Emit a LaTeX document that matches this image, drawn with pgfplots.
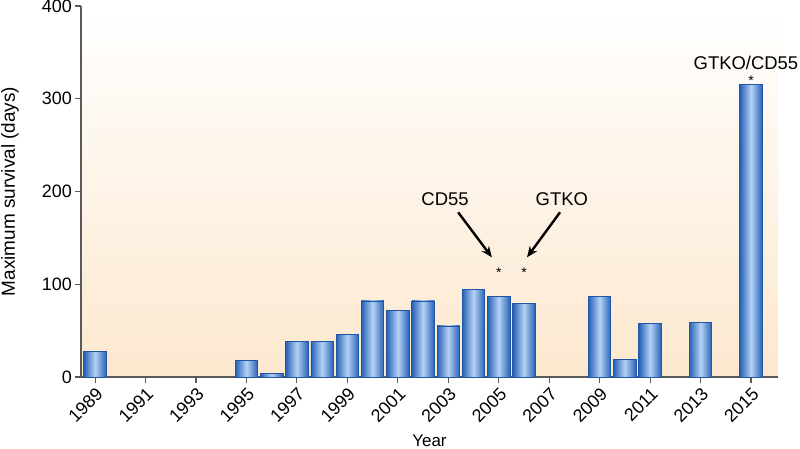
\documentclass[border=0pt]{standalone}
\usepackage{pgfplots}
\pgfplotsset{compat=1.18}
\usetikzlibrary{arrows.meta}
\usepackage{fontspec}
\setmainfont{Liberation Sans}
\definecolor{barEdge}{RGB}{38,98,182}
\definecolor{barMid}{RGB}{182,210,245}
\definecolor{barLine}{RGB}{30,85,165}
\definecolor{bgBottom}{RGB}{252,232,206}
\definecolor{axisgray}{RGB}{90,90,90}
\pgfplotsset{mybar/.style={ybar, bar width=0.89, bar shift=0pt, draw=barLine, line width=0.8bp, left color=barEdge, right color=barEdge, middle color=barMid}}
\begin{document}
\begin{tikzpicture}
\begin{axis}[
  scale only axis, width=697bp, height=371bp,
  xmin=1988.44, xmax=2016.07, ymin=0, ymax=400,
  axis x line*=bottom, axis y line*=left,
  axis line style={axisgray, line width=1.1bp},
  axis background/.style={shade, top color=white, bottom color=bgBottom},
  xtick={1989,1991,...,2015}, ytick={0,100,...,400},
  tick align=outside, major tick length=6bp,
  tick style={axisgray, line width=1.1bp},
  /pgf/number format/1000 sep={},
  /pgf/number format/assume math mode=true,
  tick label style={font=\fontsize{18}{20}\selectfont},
  xticklabel style={rotate=45, anchor=north east, inner sep=2bp},
  yticklabel style={inner sep=3bp},
  every axis y label/.style={at={(axis description cs:0,0.5)}, xshift=-71bp, rotate=90, anchor=center, font=\fontsize{19}{20}\selectfont},
  every axis x label/.style={at={(axis description cs:0.5,0)}, yshift=-64bp, anchor=center, font=\fontsize{17}{20}\selectfont},
  ylabel={Maximum survival (days)}, xlabel={Year},
  clip=false,
]
\addplot[mybar] coordinates {(1989,28)};
\addplot[mybar] coordinates {(1995,18)};
\addplot[mybar] coordinates {(1996,4)};
\addplot[mybar] coordinates {(1997,38)};
\addplot[mybar] coordinates {(1998,38)};
\addplot[mybar] coordinates {(1999,46)};
\addplot[mybar] coordinates {(2000,82)};
\addplot[mybar] coordinates {(2001,72)};
\addplot[mybar] coordinates {(2002,82)};
\addplot[mybar] coordinates {(2003,55)};
\addplot[mybar] coordinates {(2004,94)};
\addplot[mybar] coordinates {(2005,87)};
\addplot[mybar] coordinates {(2006,79)};
\addplot[mybar] coordinates {(2009,87)};
\addplot[mybar] coordinates {(2010,19)};
\addplot[mybar] coordinates {(2011,58)};
\addplot[mybar] coordinates {(2013,59)};
\addplot[mybar] coordinates {(2015,315)};
\node[font=\fontsize{18.5}{20}\selectfont] at (axis cs:2002.87,191.7) {CD55};
\node[font=\fontsize{18.5}{20}\selectfont] at (axis cs:2007.5,191.7) {GTKO};
\node[font=\fontsize{18.5}{20}\selectfont] at (axis cs:2014.8,339) {GTKO/CD55};
\node[font=\fontsize{14}{14}\selectfont, anchor=base, inner sep=0pt] at (axis cs:2005,107.5) {*};
\node[font=\fontsize{14}{14}\selectfont, anchor=base, inner sep=0pt] at (axis cs:2006,107.5) {*};
\node[font=\fontsize{14}{14}\selectfont, anchor=base, inner sep=0pt] at (axis cs:2015,314) {*};
\draw[-{Stealth[length=11bp,width=9bp]}, line width=2.4bp] (axis cs:2003.39,177.6) -- (axis cs:2004.73,129);
\draw[-{Stealth[length=11bp,width=9bp]}, line width=2.4bp] (axis cs:2007.43,177.6) -- (axis cs:2006.12,129);
\end{axis}
\pgfresetboundingbox
\path ([shift={(-81bp,-72bp)}]current axis.south west) rectangle ([shift={(22bp,6bp)}]current axis.north east);
\end{tikzpicture}
\end{document}
